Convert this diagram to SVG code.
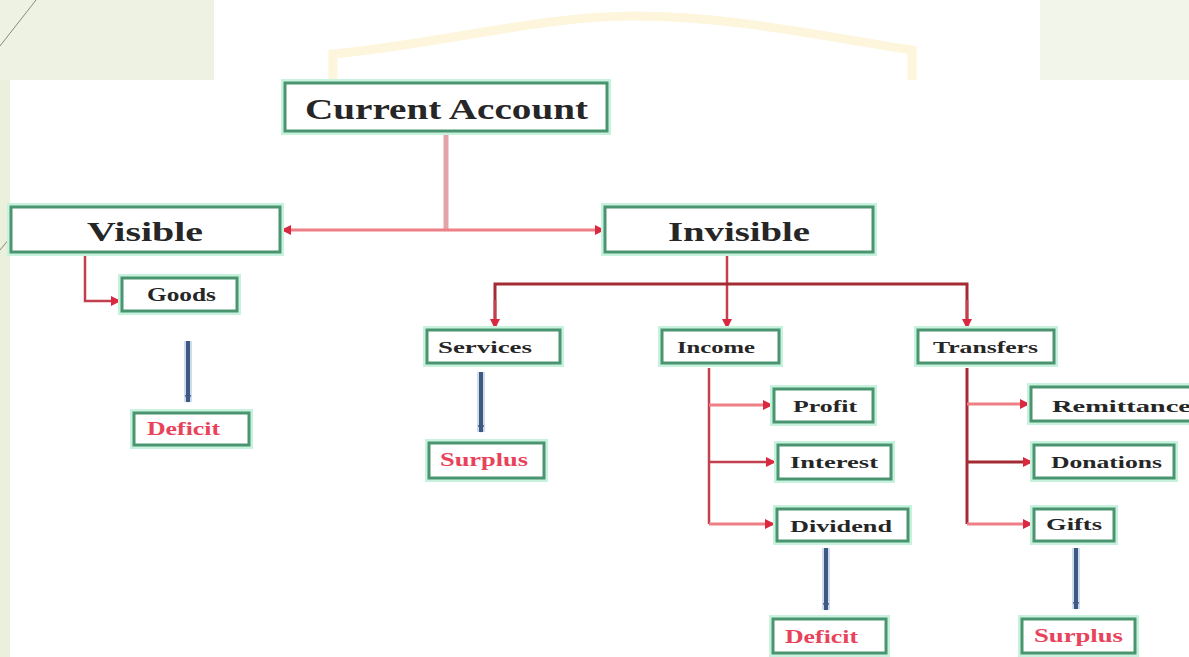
<svg xmlns="http://www.w3.org/2000/svg" width="1189" height="657" viewBox="0 0 1189 657">
<style>
.box{fill:#fff;stroke:#4a9470;stroke-width:3}
.glow{fill:none;stroke:#c6f2de;stroke-width:8}
.t{font-family:"Liberation Serif","Times New Roman",serif;font-weight:bold;fill:#262626}
.r{fill:#e8435a}
.red{fill:none;stroke:#c2404f;stroke-width:2.5}
.pink{fill:none;stroke:#ee7f85;stroke-width:3}
.dark{fill:none;stroke:#a42a33;stroke-width:3}
.blueo{stroke:#cfdcef;stroke-width:8}
.blue{stroke:#3e5a80;stroke-width:4}
</style>
<defs>
<marker id="ah" viewBox="0 0 10 10" refX="9" refY="5" markerWidth="10" markerHeight="10" markerUnits="userSpaceOnUse" orient="auto">
<path d="M0,0 L10,5 L0,10 z" fill="#d9283f"/>
</marker>
<marker id="bh" viewBox="0 0 10 10" refX="9" refY="5" markerWidth="8" markerHeight="8" markerUnits="userSpaceOnUse" orient="auto">
<path d="M0,1 L10,5 L0,9 z" fill="#3e5a80"/>
</marker>
</defs>
<rect width="1189" height="657" fill="#ffffff"/>
<g id="background">
<rect x="0" y="0" width="10" height="657" fill="#eaf0dc"/>
<rect x="0" y="0" width="214" height="80" fill="#edf2e2"/>
<rect x="1040" y="0" width="149" height="80" fill="#f2f5ea"/>
<line x1="36" y1="0" x2="0" y2="46" stroke="#8a8a70" stroke-width="1"/>
<line x1="10" y1="238" x2="0" y2="250" stroke="#8a8a70" stroke-width="1"/>
<path d="M333 80 V54 C440 44 540 16 634 16 C730 16 820 36 912 50 V80" fill="none" stroke="#fdf5dc" stroke-width="9"/>
</g>
<g id="connectors">
<line x1="446" y1="131" x2="446" y2="230" stroke="#e2a4a8" stroke-width="5"/>
<line x1="446" y1="230" x2="282" y2="230" class="pink" marker-end="url(#ah)"/>
<line x1="446" y1="230" x2="604" y2="230" class="pink" marker-end="url(#ah)"/>
<path d="M85 252 V301 H120" class="red" marker-end="url(#ah)"/>
<line x1="188" y1="341" x2="188" y2="402" class="blueo"/>
<line x1="188" y1="341" x2="188" y2="402" class="blue" marker-end="url(#bh)"/>
<line x1="727" y1="252" x2="727" y2="328" class="red" marker-end="url(#ah)"/>
<path d="M495 328 V284 H967 V328" class="dark"/>
<line x1="495" y1="300" x2="495" y2="328" class="red" marker-end="url(#ah)"/>
<line x1="967" y1="300" x2="967" y2="328" class="red" marker-end="url(#ah)"/>
<line x1="481" y1="372" x2="481" y2="432" class="blueo"/>
<line x1="481" y1="372" x2="481" y2="432" class="blue" marker-end="url(#bh)"/>
<path d="M709 368 V524" class="red"/>
<line x1="709" y1="405" x2="772" y2="405" class="pink" marker-end="url(#ah)"/>
<line x1="709" y1="462" x2="775" y2="462" class="red" marker-end="url(#ah)"/>
<line x1="709" y1="524" x2="774" y2="524" class="pink" marker-end="url(#ah)"/>
<line x1="826" y1="548" x2="826" y2="610" class="blueo"/>
<line x1="826" y1="548" x2="826" y2="610" class="blue" marker-end="url(#bh)"/>
<path d="M967 368 V524" class="dark"/>
<line x1="967" y1="404" x2="1029" y2="404" class="pink" marker-end="url(#ah)"/>
<line x1="967" y1="462" x2="1032" y2="462" class="dark" marker-end="url(#ah)"/>
<line x1="967" y1="524" x2="1032" y2="524" class="pink" marker-end="url(#ah)"/>
<line x1="1076" y1="548" x2="1076" y2="609" class="blueo"/>
<line x1="1076" y1="548" x2="1076" y2="609" class="blue" marker-end="url(#bh)"/>
</g>
<g id="n-current">
<rect x="285" y="83" width="322" height="48" class="glow"/>
<rect x="285" y="83" width="322" height="48" class="box"/>
<text x="305" y="119" class="t" font-size="29" textLength="283" lengthAdjust="spacingAndGlyphs">Current Account</text>
</g>
<g id="n-visible">
<rect x="11" y="207" width="269" height="45" class="glow"/>
<rect x="11" y="207" width="269" height="45" class="box"/>
<text x="87" y="241" class="t" font-size="28" textLength="116" lengthAdjust="spacingAndGlyphs">Visible</text>
</g>
<g id="n-invisible">
<rect x="605" y="207" width="268" height="45" class="glow"/>
<rect x="605" y="207" width="268" height="45" class="box"/>
<text x="668" y="241" class="t" font-size="28" textLength="142" lengthAdjust="spacingAndGlyphs">Invisible</text>
</g>
<g id="n-goods">
<rect x="122" y="278" width="115" height="33" class="glow"/>
<rect x="122" y="278" width="115" height="33" class="box"/>
<text x="147" y="301" class="t" font-size="18" textLength="69" lengthAdjust="spacingAndGlyphs">Goods</text>
</g>
<g id="n-deficit1">
<rect x="134" y="413" width="115" height="32" class="glow"/>
<rect x="134" y="413" width="115" height="32" class="box"/>
<text x="147" y="435" class="t r" font-size="18" textLength="73" lengthAdjust="spacingAndGlyphs">Deficit</text>
</g>
<g id="n-services">
<rect x="427" y="330" width="133" height="33" class="glow"/>
<rect x="427" y="330" width="133" height="33" class="box"/>
<text x="438" y="353" class="t" font-size="17" textLength="94" lengthAdjust="spacingAndGlyphs">Services</text>
</g>
<g id="n-surplus1">
<rect x="429" y="443" width="115" height="35" class="glow"/>
<rect x="429" y="443" width="115" height="35" class="box"/>
<text x="440" y="466" class="t r" font-size="18" textLength="88" lengthAdjust="spacingAndGlyphs">Surplus</text>
</g>
<g id="n-income">
<rect x="662" y="330" width="117" height="33" class="glow"/>
<rect x="662" y="330" width="117" height="33" class="box"/>
<text x="677" y="353" class="t" font-size="17" textLength="78" lengthAdjust="spacingAndGlyphs">Income</text>
</g>
<g id="n-transfers">
<rect x="918" y="330" width="136" height="33" class="glow"/>
<rect x="918" y="330" width="136" height="33" class="box"/>
<text x="933" y="353" class="t" font-size="17" textLength="105" lengthAdjust="spacingAndGlyphs">Transfers</text>
</g>
<g id="n-profit">
<rect x="774" y="389" width="99" height="33" class="glow"/>
<rect x="774" y="389" width="99" height="33" class="box"/>
<text x="793" y="412" class="t" font-size="17" textLength="64" lengthAdjust="spacingAndGlyphs">Profit</text>
</g>
<g id="n-interest">
<rect x="778" y="445" width="113" height="34" class="glow"/>
<rect x="778" y="445" width="113" height="34" class="box"/>
<text x="790" y="468" class="t" font-size="17" textLength="88" lengthAdjust="spacingAndGlyphs">Interest</text>
</g>
<g id="n-dividend">
<rect x="777" y="509" width="131" height="32" class="glow"/>
<rect x="777" y="509" width="131" height="32" class="box"/>
<text x="790" y="532" class="t" font-size="17" textLength="102" lengthAdjust="spacingAndGlyphs">Dividend</text>
</g>
<g id="n-deficit2">
<rect x="773" y="619" width="113" height="34" class="glow"/>
<rect x="773" y="619" width="113" height="34" class="box"/>
<text x="785" y="643" class="t r" font-size="18" textLength="73" lengthAdjust="spacingAndGlyphs">Deficit</text>
</g>
<g id="n-remittances">
<rect x="1031" y="387" width="170" height="34" class="glow"/>
<rect x="1031" y="387" width="170" height="34" class="box"/>
<text x="1052" y="412" class="t" font-size="17" textLength="150" lengthAdjust="spacingAndGlyphs">Remittances</text>
</g>
<g id="n-donations">
<rect x="1034" y="445" width="140" height="33" class="glow"/>
<rect x="1034" y="445" width="140" height="33" class="box"/>
<text x="1051" y="468" class="t" font-size="17" textLength="111" lengthAdjust="spacingAndGlyphs">Donations</text>
</g>
<g id="n-gifts">
<rect x="1034" y="509" width="80" height="32" class="glow"/>
<rect x="1034" y="509" width="80" height="32" class="box"/>
<text x="1046" y="530" class="t" font-size="17" textLength="56" lengthAdjust="spacingAndGlyphs">Gifts</text>
</g>
<g id="n-surplus2">
<rect x="1022" y="619" width="113" height="34" class="glow"/>
<rect x="1022" y="619" width="113" height="34" class="box"/>
<text x="1034" y="642" class="t r" font-size="18" textLength="89" lengthAdjust="spacingAndGlyphs">Surplus</text>
</g>
</svg>
